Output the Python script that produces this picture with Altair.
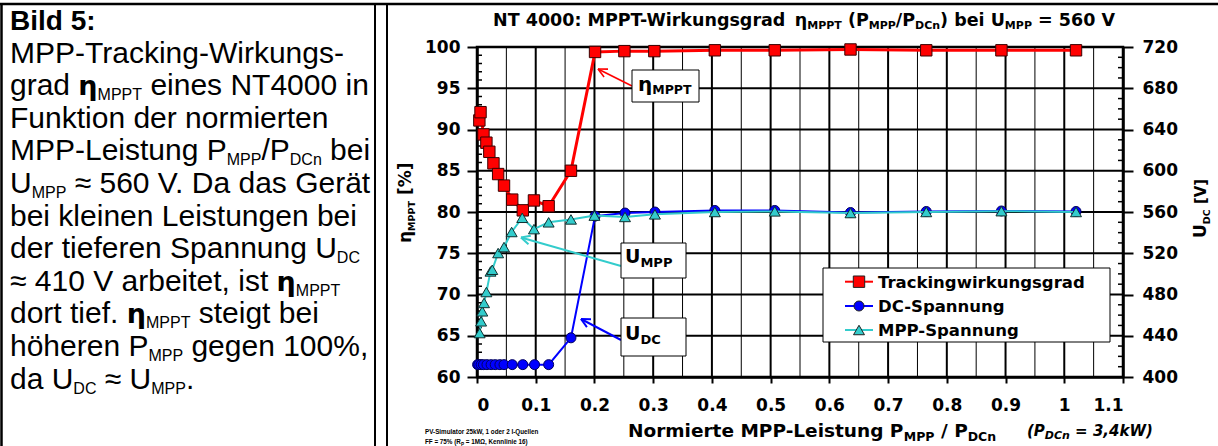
import math
import altair as alt
import pandas as pd

# ---------------- values ----------------
eta_x = [0.004, 0.006, 0.011, 0.016, 0.021, 0.028, 0.036, 0.046, 0.060, 0.078, 0.097,
         0.122, 0.160, 0.201, 0.251, 0.302, 0.405, 0.507, 0.636, 0.765, 0.893, 1.020]
eta_val = [91.1, 92.1, 89.4, 88.4, 87.3, 85.9, 84.6, 83.2, 81.5, 80.2, 81.4,
           80.7, 85.0, 99.4, 99.5, 99.5, 99.6, 99.6, 99.7, 99.6, 99.6, 99.6]

udc_x = [0.001, 0.003, 0.007, 0.011, 0.017, 0.024, 0.031, 0.039, 0.046, 0.060, 0.078,
         0.098, 0.122, 0.160, 0.201, 0.252, 0.303, 0.405, 0.507, 0.636, 0.765, 0.893, 1.020]
udc_val = [412, 412, 412, 412, 412, 412, 412, 412, 412, 412, 412,
           412, 412, 438, 556, 559, 560, 561.5, 561.5, 559.5, 560.5, 561, 560.5]

umpp_x = [0.0045, 0.007, 0.009, 0.012, 0.016, 0.023, 0.026, 0.036, 0.046, 0.059, 0.077,
          0.097, 0.122, 0.160, 0.200, 0.252, 0.303, 0.405, 0.507, 0.636, 0.765, 0.893, 1.020]
umpp_val = [442.6, 454.0, 463.7, 471.8, 482.4, 502.4, 504.0, 520.2, 526.0, 540.6, 554.4,
            543.4, 550.0, 552.8, 556.5, 555.2, 557.7, 560.0, 560.6, 559.0, 560.0, 560.8, 560.0]

x_ticks = [0, 0.1, 0.2, 0.3, 0.4, 0.5, 0.6, 0.7, 0.8, 0.9, 1.0, 1.1]
x_grid_minor = [0.05, 0.15, 0.25, 0.35, 0.45, 0.55, 0.65, 0.75, 0.85, 0.95, 1.05]
eta_ticks = [60, 65, 70, 75, 80, 85, 90, 95, 100]
u_ticks = [400, 440, 480, 520, 560, 600, 640, 680, 720]
eta_minor = [v for v in range(61, 100) if v % 5]
u_minor = [v for v in range(410, 720, 10) if v % 40]

series_names = ["Trackingwirkungsgrad", "DC-Spannung", "MPP-Spannung"]
series_colors = ["#FF0000", "#0000FF", "#33CCCC"]
series_shapes = ["square", "circle", "triangle-up"]

box_title = "Bild 5:"
box_lines = [
    [("MPP-Tracking-Wirkungs-", "r")],
    [("grad ", "r"), ("η", "eta"), ("MPPT", "s"), (" eines NT4000 in", "r")],
    [("Funktion der normierten", "r")],
    [("MPP-Leistung P", "r"), ("MPP", "s"), ("/P", "r"), ("DCn", "s"), (" bei", "r")],
    [("U", "r"), ("MPP", "s"), (" ≈ 560 V. Da das Gerät", "r")],
    [("bei kleinen Leistungen bei", "r")],
    [("der tieferen Spannung U", "r"), ("DC", "s")],
    [("≈ 410 V arbeitet, ist ", "r"), ("η", "eta"), ("MPPT", "s")],
    [("dort tief. ", "r"), ("η", "eta"), ("MPPT", "s"), (" steigt bei", "r")],
    [("höheren P", "r"), ("MPP", "s"), (" gegen 100%,", "r")],
    [("da U", "r"), ("DC", "s"), (" ≈ U", "r"), ("MPP", "s"), (".", "r")],
]

# ---------------- layout ----------------
OX, OY = 477, 47
W, H = 646, 330
PAD = {"left": OX, "top": OY, "right": 1218 - OX - W, "bottom": 446 - OY - H}


def L(x):
    return x - OX


def T(y):
    return y - OY


def _tbl(spec):
    d = {}
    for chars, w in spec:
        for c in chars:
            d[c] = w
    return d


AR = _tbl([(" .,:/'", .278), ("-()", .333), ("%", .889), ("=", .584), ("≈", .549),
           ("0123456789", .556), ("ABEKPSVXY", .667), ("CDHNRU", .722), ("FTZ", .611),
           ("GOQ", .778), ("I", .278), ("J", .5), ("L", .556), ("M", .833), ("W", .944),
           ("abdeghnopquäöü", .556), ("ckvxyzs", .5), ("ft", .278), ("ijl", .222),
           ("m", .833), ("r", .333), ("w", .722)])
AB = _tbl([(" .,/", .278), (":-()", .333), ("%", .889), ("=", .584), ("0123456789", .556),
           ("ABCDHKNRU", .722), ("EPSVXY", .667), ("FTZ", .611), ("GOQ", .778), ("I", .278),
           ("J", .556), ("L", .611), ("M", .833), ("W", .944), ("aceäsvxyk", .556),
           ("bdghnopquö", .611), ("f", .333), ("r", .389), ("t", .333), ("ijl", .278),
           ("z", .5), ("m", .889), ("w", .778), ("Ω", .768)])
DJB = _tbl([(" ", .348), (".,", .38), (":", .4), ("/", .365), ("-", .415), ("()[]", .457),
            ("%", 1.002), ("=≈", .838), ("0123456789", .696), ("A", .774), ("B", .762),
            ("C", .734), ("D", .83), ("EF", .683), ("G", .821), ("HN", .837), ("I", .372),
            ("K", .775), ("L", .637), ("M", .995), ("O", .85), ("P", .733), ("R", .77),
            ("S", .72), ("T", .682), ("U", .812), ("V", .774), ("W", 1.103), ("a", .675),
            ("bdgp", .716), ("c", .593), ("e", .678), ("hnuη", .712), ("il", .343),
            ("k", .665), ("m", 1.042), ("o", .687), ("r", .493), ("s", .595), ("t", .478),
            ("w", .924)])
TABLES = {"ar": AR, "ab": AB, "djb": DJB, "djbi": DJB, "djb_rot": DJB, "djb_mid": DJB}


def tw(text, size, st):
    t = TABLES[st]
    return sum(t.get(c, 0.6) for c in text) * size


texts = []


def put(x, y, t, s, st):
    texts.append(dict(x=L(x), y=T(y), t=t, s=s, st=st))


def rich(x0, yb, segs, sub_drop):
    """segs: (text, size, style, is_sub); leading blanks become an x shift"""
    x = x0
    for text, size, st, sub in segs:
        body = text.lstrip(" ")
        lead = tw(text[:len(text) - len(body)], size, st)
        put(x + lead, yb + (sub_drop if sub else 0), body, size, st)
        x += tw(text, size, st)
    return x


def rich_rot(xb, y0, segs, sub_shift):
    y = y0
    for text, size, sub in segs:
        body = text.lstrip(" ")
        lead = tw(text[:len(text) - len(body)], size, "djb")
        put(xb + (sub_shift if sub else 0), y - lead, body, size, "djb_rot")
        y -= tw(text, size, "djb")


# ---- left description box ----
BOX_MAIN, BOX_SUB, BOX_ETA = 30, 16, 27
put(10, 30, box_title, 28, "ab")
for i, line in enumerate(box_lines):
    yb = 30 + 32.6 * (i + 1)
    segs = []
    for txt, kind in line:
        if kind == "r":
            segs.append((txt, BOX_MAIN, "ar", False))
        elif kind == "s":
            segs.append((txt, BOX_SUB, "ar", True))
        else:
            segs.append((txt, BOX_ETA, "djb", False))
    rich(10, yb, segs, 5)

# ---- chart title ----
title_segs = [("NT 4000: MPPT-Wirkungsgrad ", 17.5, "djb", False), ("η", 17.5, "djb", False),
              ("MPPT", 11, "djb", True), (" (P", 17.5, "djb", False), ("MPP", 11, "djb", True),
              ("/P", 17.5, "djb", False), ("DCn", 11, "djb", True), (") bei U", 17.5, "djb", False),
              ("MPP", 11, "djb", True), (" = 560 V", 17.5, "djb", False)]
tot = sum(tw(t, s, st) for t, s, st, _ in title_segs)
rich(804 - tot / 2, 26, title_segs, 3)

# ---- x-axis title ----
rich(628, 436.5, [("Normierte MPP-Leistung P", 18.5, "djb", False), ("MPP", 12.5, "djb", True),
                  (" / P", 18.5, "djb", False), ("DCn", 12.5, "djb", True)], 4)
rich(1027, 436, [("(P", 15, "djbi", False), ("DCn", 11, "djbi", True),
                 (" = 3,4kW)", 15, "djbi", False)], 3)

# ---- y-axis titles (rotated) ----
rich_rot(411, 243, [("η", 17, False), ("MPPT", 9.5, True), (" [%]", 17, False)], 4)
rich_rot(1205.5, 238, [("U", 17, False), ("DC", 9.5, True), (" [V]", 15, False)], 4)

# ---- footnote ----
put(425, 434, "PV-Simulator 25kW, 1 oder 2 I-Quellen", 6.3, "ab")
rich(425, 444, [("FF = 75% (R", 6.3, "ab", False), ("P", 4.6, "ab", True),
                (" = 1MΩ, Kennlinie 16)", 6.3, "ab", False)], 1.5)

# ---- annotation labels ----
rich(638, 91, [("η", 20, "djb", False), ("MPPT", 12.5, "djb", True)], 3)
rich(625, 263, [("U", 19, "djb", False), ("MPP", 13, "djb", True)], 4)
rich(625, 340, [("U", 19, "djb", False), ("DC", 13, "djb", True)], 4)

# ---- legend text ----
LEG_Y = [281.7, 306, 330]
for name, ly in zip(series_names, LEG_Y):
    put(878, ly + 1, name, 16.5, "djb_mid")

# ---------------- decoration rules / boxes ----------------
rules = []


def rule(x1, y1, x2, y2, w, c):
    rules.append(dict(x=L(x1), y=T(y1), x2=L(x2), y2=T(y2), w=w, c=c))


def arrow(x1, y1, x2, y2, c, w, head=10, ang=26):
    rule(x1, y1, x2, y2, w, c)
    a = math.atan2(y1 - y2, x1 - x2)
    for s in (-1, 1):
        b = a + s * math.radians(ang)
        rule(x2, y2, x2 + head * math.cos(b), y2 + head * math.sin(b), w, c)


rule(0, 4, 1218, 4, 2.5, "black")
rule(1.5, 4, 1.5, 446, 2.5, "black")
rule(375, 4, 375, 446, 2, "black")
rule(387, 4, 387, 446, 2, "black")

arrow(632, 86, 598, 69, "#FF0000", 1.6)
arrow(621, 266, 521, 237.5, "#33CCCC", 2)
arrow(621, 340, 581, 319, "#0000FF", 2)

boxes = [dict(x=L(a), y=T(b), x2=L(c), y2=T(d)) for a, b, c, d in
         [(632, 70, 699, 102), (621, 243, 686, 278), (621, 318, 686, 356)]]
legend_box = [dict(x=L(823), y=T(268), x2=L(1110), y2=T(342))]

leg_rows = pd.DataFrame({
    "name": series_names, "c": series_colors, "shape": series_shapes,
    "y": [T(v) for v in LEG_Y], "size": [130, 100, 120],
    "x": [L(845)] * 3, "x2": [L(873)] * 3, "xm": [L(859)] * 3,
})

# ---------------- scales / axes ----------------
x_scale = alt.Scale(domain=[0, 1.1], nice=False, zero=False)
yL = alt.Scale(domain=[60, 100], nice=False, zero=False)
yR = alt.Scale(domain=[400, 720], nice=False, zero=False)

common_axis = dict(labelFont="DejaVu Sans", labelFontWeight="bold", labelFontSize=17,
                   labelColor="black", tickColor="black", tickWidth=2, domainColor="black",
                   domainWidth=2.5, grid=False, title=None)
AX = alt.Axis(values=x_ticks, format="~g", orient="bottom", tickSize=6, labelPadding=14,
              **common_axis)
AYL = alt.Axis(values=eta_ticks, orient="left", tickSize=10, labelPadding=7, **common_axis)
AYR = alt.Axis(values=u_ticks, orient="right", tickSize=10, labelPadding=9, **common_axis)

# ---------------- left (efficiency) group ----------------
g_minor = alt.Chart(pd.DataFrame({"gx": x_grid_minor})).mark_rule(
    color="black", strokeWidth=1).encode(
    x=alt.X("gx:Q", scale=x_scale, axis=AX), y=alt.value(0), y2=alt.value(H))
g_major = alt.Chart(pd.DataFrame({"gx": x_ticks[1:-1]})).mark_rule(
    color="black", strokeWidth=2).encode(
    x=alt.X("gx:Q", scale=x_scale, axis=AX), y=alt.value(0), y2=alt.value(H))
g_h = alt.Chart(pd.DataFrame({"gy": eta_ticks[1:-1]})).mark_rule(
    color="black", strokeWidth=2).encode(
    y=alt.Y("gy:Q", scale=yL, axis=AYL), x=alt.value(0), x2=alt.value(W))
tick_l = alt.Chart(pd.DataFrame({"gy": eta_minor})).mark_rule(
    color="black", strokeWidth=1.5).encode(
    y=alt.Y("gy:Q", scale=yL, axis=AYL), x=alt.value(0), x2=alt.value(5))

eta_df = pd.DataFrame({"x": eta_x, "v": eta_val})
red_line = alt.Chart(eta_df).mark_line(color="#FF0000", strokeWidth=3).encode(
    x=alt.X("x:Q", scale=x_scale, axis=AX), y=alt.Y("v:Q", scale=yL, axis=AYL))
red_pts = alt.Chart(eta_df).mark_point(
    shape="square", filled=True, size=130, color="#FF0000", stroke="#3a0000",
    strokeWidth=1, opacity=1).encode(
    x=alt.X("x:Q", scale=x_scale, axis=AX), y=alt.Y("v:Q", scale=yL, axis=AYL))

left = alt.layer(g_minor, g_major, g_h, tick_l, red_line, red_pts)

# ---------------- right (voltage) group ----------------
tick_r = alt.Chart(pd.DataFrame({"gu": u_minor})).mark_rule(
    color="black", strokeWidth=1.5).encode(
    y=alt.Y("gu:Q", scale=yR, axis=AYR), x=alt.value(W - 5), x2=alt.value(W))
udc_df = pd.DataFrame({"x": udc_x, "u": udc_val})
umpp_df = pd.DataFrame({"x": umpp_x, "u": umpp_val})
blue_line = alt.Chart(udc_df).mark_line(color="#0000FF", strokeWidth=2).encode(
    x=alt.X("x:Q", scale=x_scale, axis=AX), y=alt.Y("u:Q", scale=yR, axis=AYR))
blue_pts = alt.Chart(udc_df).mark_point(
    shape="circle", filled=True, size=100, color="#0000FF", stroke="#000060",
    strokeWidth=1, opacity=1).encode(
    x=alt.X("x:Q", scale=x_scale, axis=AX), y=alt.Y("u:Q", scale=yR, axis=AYR))
cyan_line = alt.Chart(umpp_df).mark_line(color="#33CCCC", strokeWidth=2).encode(
    x=alt.X("x:Q", scale=x_scale, axis=AX), y=alt.Y("u:Q", scale=yR, axis=AYR))
cyan_pts = alt.Chart(umpp_df).mark_point(
    shape="triangle-up", filled=True, size=120, color="#33CCCC", stroke="#103030",
    strokeWidth=1, opacity=1).encode(
    x=alt.X("x:Q", scale=x_scale, axis=AX), y=alt.Y("u:Q", scale=yR, axis=AYR))

right = alt.layer(tick_r, blue_line, blue_pts, cyan_line, cyan_pts)


# ---------------- decoration ----------------
def px(f):
    return alt.X(f + ":Q", scale=None, axis=None)


def py(f):
    return alt.Y(f + ":Q", scale=None, axis=None)


rules_df = pd.DataFrame(rules)
rule_layer = alt.Chart(rules_df).mark_rule().encode(
    x=px("x"), y=py("y"), x2="x2:Q", y2="y2:Q",
    strokeWidth=alt.StrokeWidth("w:Q", scale=None, legend=None),
    color=alt.Color("c:N", scale=None, legend=None))

box_layer = alt.Chart(pd.DataFrame(boxes + legend_box)).mark_rect(
    fill="white", stroke="black", strokeWidth=1).encode(
    x=px("x"), y=py("y"), x2="x2:Q", y2="y2:Q")

leg_lines = alt.Chart(leg_rows).mark_rule(strokeWidth=2).encode(
    x=px("x"), x2="x2:Q", y=py("y"), color=alt.Color("c:N", scale=None, legend=None))
leg_pts = alt.Chart(leg_rows).mark_point(filled=True, stroke="#202020", strokeWidth=1,
                                         opacity=1).encode(
    x=px("xm"), y=py("y"), color=alt.Color("c:N", scale=None, legend=None),
    shape=alt.Shape("shape:N", scale=None, legend=None),
    size=alt.Size("size:Q", scale=None, legend=None))

STY = {
    "ar": dict(font="Liberation Sans", fontWeight="normal"),
    "ab": dict(font="Liberation Sans", fontWeight="bold"),
    "djb": dict(font="DejaVu Sans", fontWeight="bold"),
    "djbi": dict(font="DejaVu Sans", fontWeight="bold", fontStyle="italic"),
    "djb_rot": dict(font="DejaVu Sans", fontWeight="bold", angle=270),
    "djb_mid": dict(font="DejaVu Sans", fontWeight="bold", baseline="middle"),
}
tdf = pd.DataFrame(texts)
text_layers = []
for st, opts in STY.items():
    sub = tdf[tdf["st"] == st]
    if sub.empty:
        continue
    kw = dict(align="left", baseline="alphabetic", color="black")
    kw.update(opts)
    text_layers.append(alt.Chart(sub).mark_text(**kw).encode(
        x=px("x"), y=py("y"), text="t:N",
        size=alt.Size("s:Q", scale=None, legend=None)))

chart = alt.layer(
    left, right, rule_layer, box_layer, leg_lines, leg_pts, *text_layers
).resolve_scale(y="independent").properties(
    width=W, height=H, padding=PAD, autosize=alt.AutoSizeParams(type="none"),
    background="white"
).configure_view(stroke="black", strokeWidth=2.5)

chart.save("out.html", embed_options={"renderer": "svg", "actions": False})
